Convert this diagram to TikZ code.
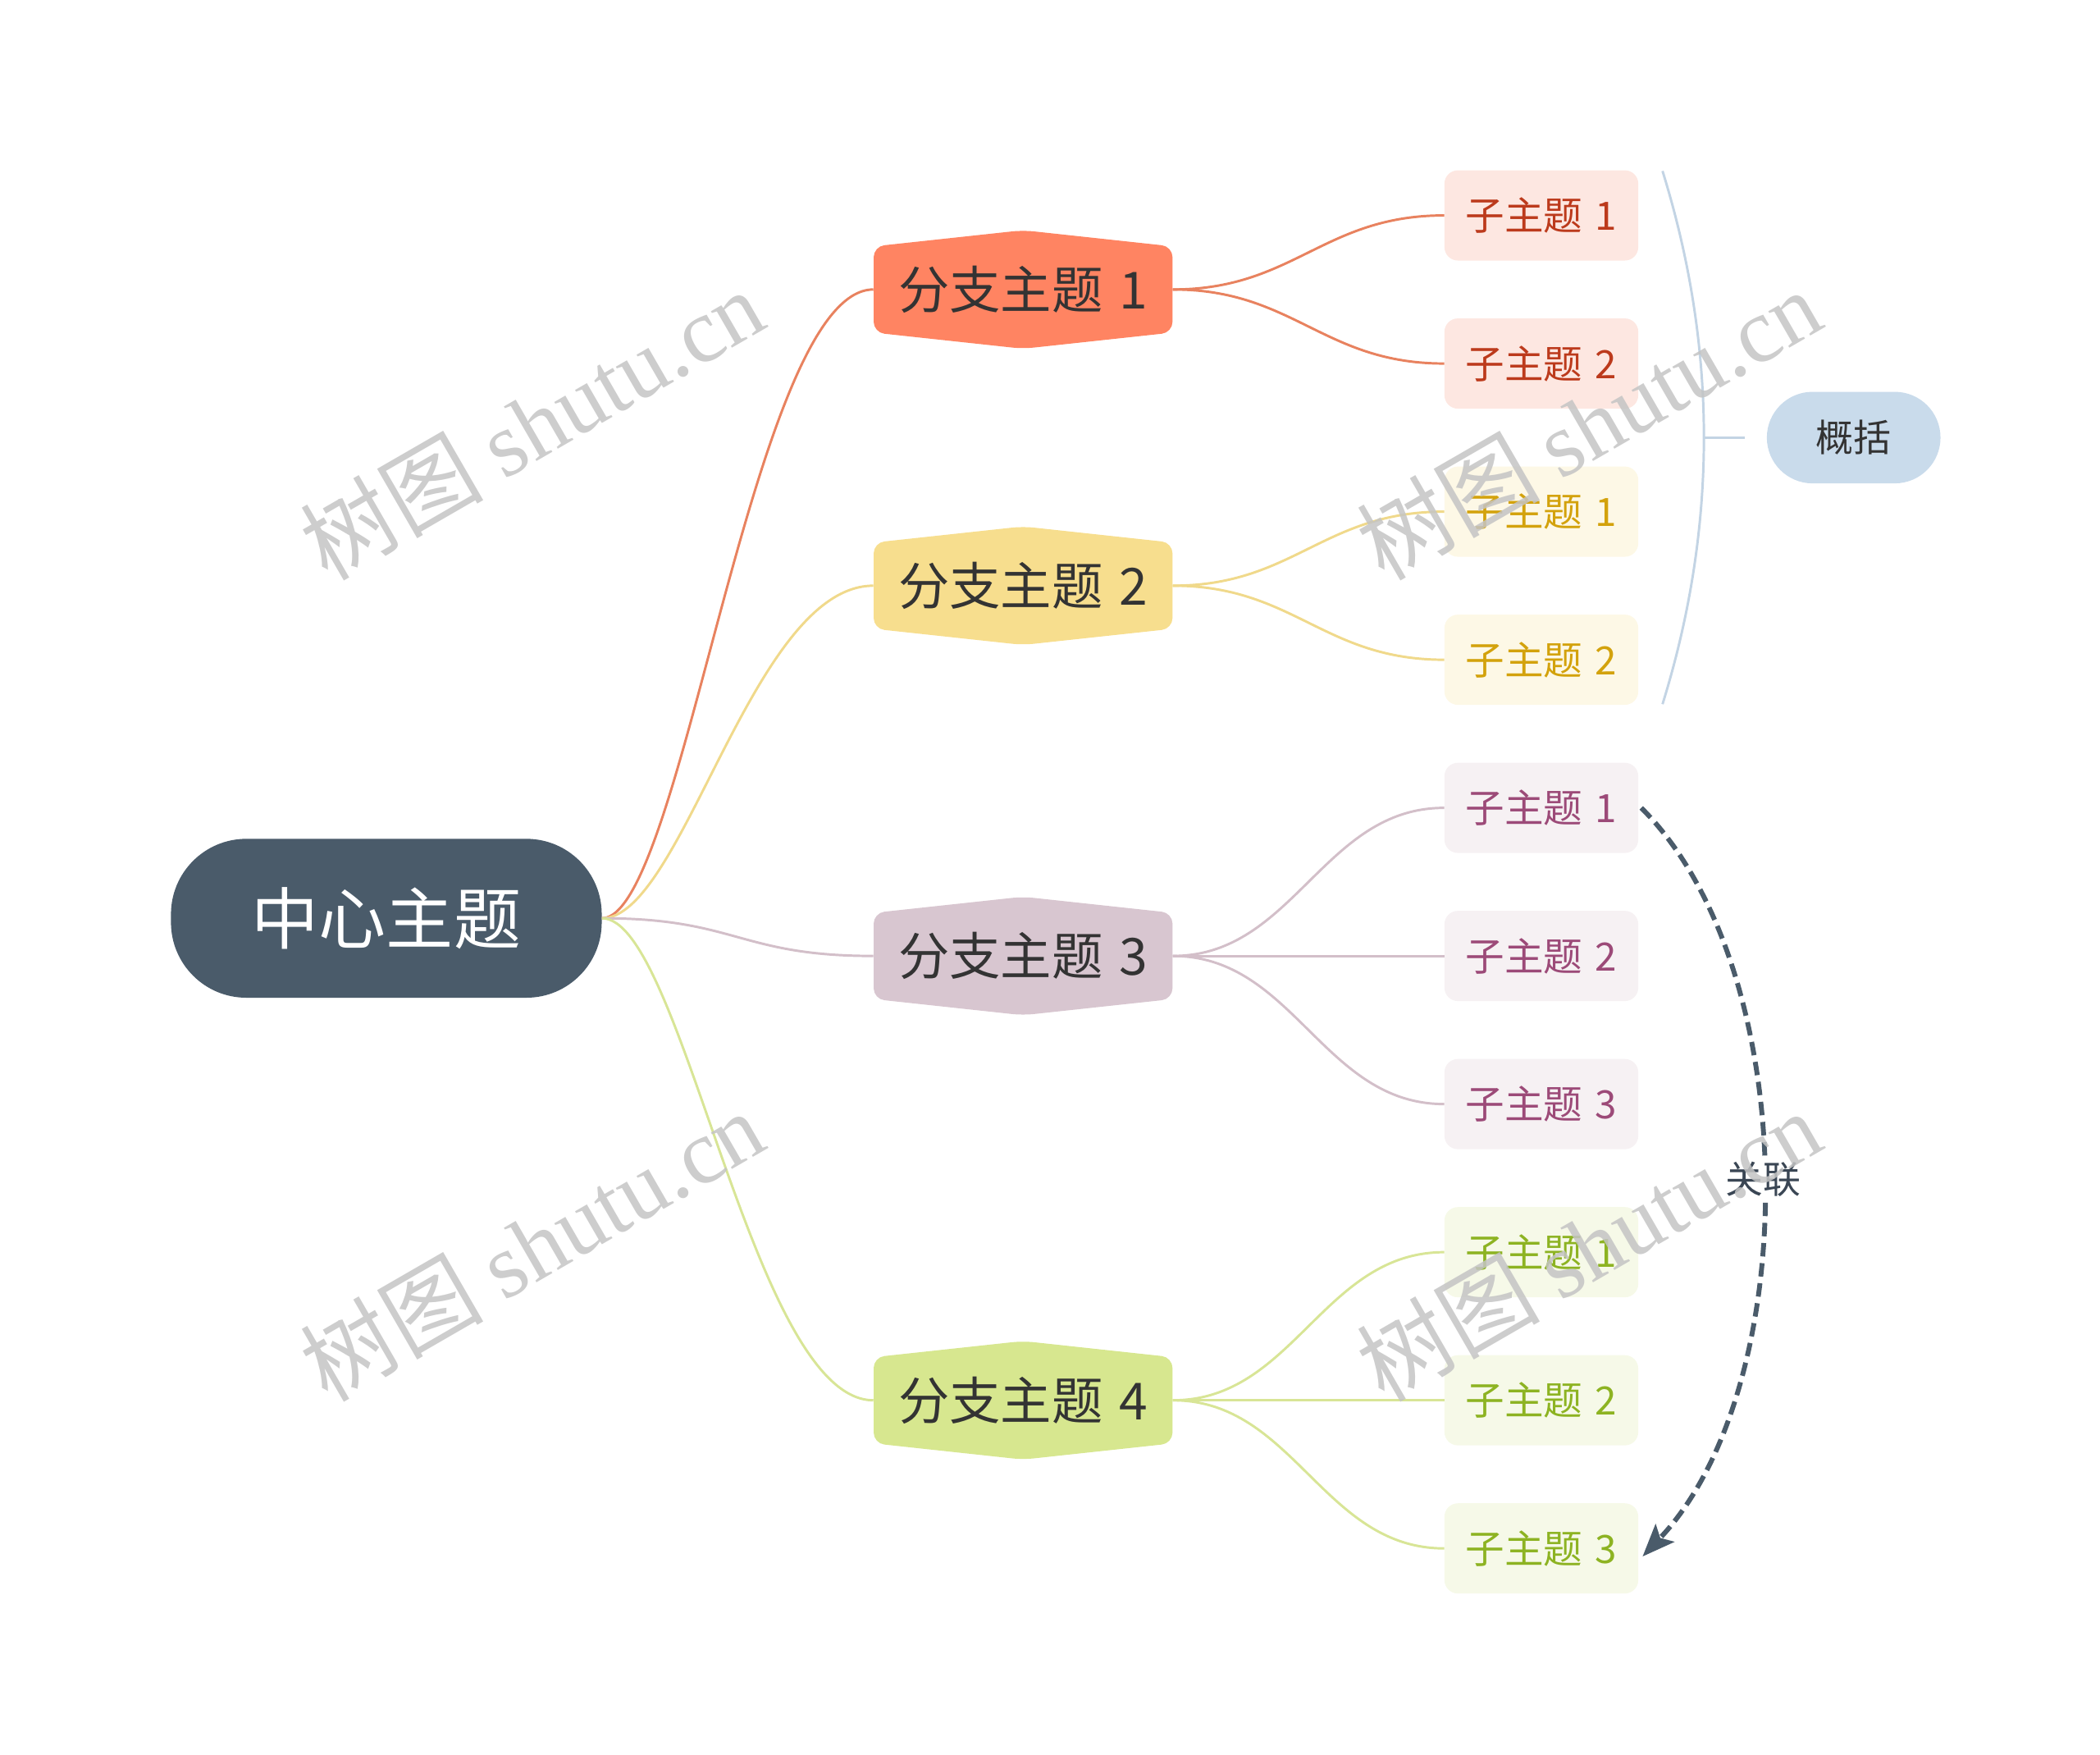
\documentclass[tikz,border=0pt]{standalone}
\usepackage{fontspec}
\setmainfont{Noto Sans CJK SC}
\newfontfamily\wmlatin{Liberation Serif}
\usetikzlibrary{arrows.meta,calc}
\definecolor{central}{HTML}{4A5B6A}
\definecolor{bone}{HTML}{FF8462}
\definecolor{btwo}{HTML}{F7DE8E}
\definecolor{bthree}{HTML}{D8C6D0}
\definecolor{bfour}{HTML}{D7E78F}
\definecolor{lone}{HTML}{E8825F}
\definecolor{ltwo}{HTML}{F0D98B}
\definecolor{lthree}{HTML}{D3BFC9}
\definecolor{lfour}{HTML}{D8E596}
\definecolor{sone}{HTML}{FDE7E1}
\definecolor{stwo}{HTML}{FDF8E6}
\definecolor{sthree}{HTML}{F6F1F3}
\definecolor{sfour}{HTML}{F6F9E8}
\definecolor{tone}{HTML}{BC3A1C}
\definecolor{ttwo}{HTML}{D3A20C}
\definecolor{tthree}{HTML}{9C4A78}
\definecolor{tfour}{HTML}{8DB322}
\definecolor{txt}{HTML}{333333}
\definecolor{reltxt}{HTML}{3A4654}
\definecolor{sumfill}{HTML}{C9DBEB}
\definecolor{sumline}{HTML}{C3D4E4}
\definecolor{wmgray}{HTML}{C4C4C4}
\newcommand\hexshape[3]{% x, y, colour
  \fill[#3, rounded corners=8pt] (#1-111,#2-32) -- (#1,#2-44) -- (#1+111,#2-32)
    -- (#1+111,#2+32) -- (#1,#2+44) -- (#1-111,#2+32) -- cycle;}
\newcommand\numsp{\hspace{0.32em}}
\begin{document}
\begin{tikzpicture}[x=1pt,y=-1pt,
  centralbox/.style={fill=central, text=white, rounded corners=56pt,
    minimum width=320pt, minimum height=118pt, inner sep=0pt, font=\fontsize{50}{56}\selectfont},
  branchbox/.style={text=txt, minimum width=222pt, minimum height=64pt, inner sep=0pt,
    font=\fontsize{38}{44}\selectfont},
  subbox/.style={rounded corners=10pt, minimum width=144pt, minimum height=67pt, inner sep=0pt,
    font=\fontsize{29}{34}\selectfont},
  sumbox/.style={fill=sumfill, text=txt, rounded corners=34pt, minimum width=129pt,
    minimum height=68pt, inner sep=0pt, font=\fontsize{28}{32}\selectfont},
  conn/.style={line width=1.8pt},
  wm/.style={text=wmgray, opacity=0.85, rotate=30, font=\fontsize{68}{78}\selectfont},
]
\useasboundingbox (0,0) rectangle (1560,1303);

% central topic
\node[centralbox] (ctr) at (287,682) {中心主题};

% branches
\hexshape{760}{215}{bone}
\node[branchbox] (b1) at (760,215) {分支主题\numsp 1};
\hexshape{760}{435}{btwo}
\node[branchbox] (b2) at (760,435) {分支主题\numsp 2};
\hexshape{760}{710}{bthree}
\node[branchbox] (b3) at (760,710) {分支主题\numsp 3};
\hexshape{760}{1040}{bfour}
\node[branchbox] (b4) at (760,1040) {分支主题\numsp 4};

% subtopics
\node[subbox, fill=sone, text=tone] (s11) at (1145,160) {子主题\numsp 1};
\node[subbox, fill=sone, text=tone] (s12) at (1145,270) {子主题\numsp 2};
\node[subbox, fill=stwo, text=ttwo] (s21) at (1145,380) {子主题\numsp 1};
\node[subbox, fill=stwo, text=ttwo] (s22) at (1145,490) {子主题\numsp 2};
\node[subbox, fill=sthree, text=tthree] (s31) at (1145,600) {子主题\numsp 1};
\node[subbox, fill=sthree, text=tthree] (s32) at (1145,710) {子主题\numsp 2};
\node[subbox, fill=sthree, text=tthree] (s33) at (1145,820) {子主题\numsp 3};
\node[subbox, fill=sfour, text=tfour] (s41) at (1145,930) {子主题\numsp 1};
\node[subbox, fill=sfour, text=tfour] (s42) at (1145,1040) {子主题\numsp 2};
\node[subbox, fill=sfour, text=tfour] (s43) at (1145,1150) {子主题\numsp 3};

% summary
\node[sumbox] (sum) at (1377,325) {概括};

% central -> branches
\draw[conn, lone] (ctr.east) .. controls +(60,0) and +(-90,0) .. (b1.west);
\draw[conn, ltwo] (ctr.east) .. controls +(60,0) and +(-90,0) .. (b2.west);
\draw[conn, lthree] (ctr.east) .. controls +(100,0) and +(-100,0) .. (b3.west);
\draw[conn, lfour] (ctr.east) .. controls +(60,0) and +(-90,0) .. (b4.west);

% branches -> subtopics
\draw[conn, lone] (b1.east) .. controls +(90,0) and +(-90,0) .. (s11.west);
\draw[conn, lone] (b1.east) .. controls +(90,0) and +(-90,0) .. (s12.west);
\draw[conn, ltwo] (b2.east) .. controls +(90,0) and +(-90,0) .. (s21.west);
\draw[conn, ltwo] (b2.east) .. controls +(90,0) and +(-90,0) .. (s22.west);
\draw[conn, lthree] (b3.east) .. controls +(90,0) and +(-90,0) .. (s31.west);
\draw[conn, lthree] (b3.east) -- (s32.west);
\draw[conn, lthree] (b3.east) .. controls +(90,0) and +(-90,0) .. (s33.west);
\draw[conn, lfour] (b4.east) .. controls +(90,0) and +(-90,0) .. (s41.west);
\draw[conn, lfour] (b4.east) -- (s42.west);
\draw[conn, lfour] (b4.east) .. controls +(90,0) and +(-90,0) .. (s43.west);

% summary bracket
\coordinate (brtop) at (1235,127);
\coordinate (brbot) at (1235,523);
\coordinate (brmid) at (1266,325);
\draw[line width=1.8pt, sumline] (brtop) .. controls (1276,259) and (1276,391) .. (brbot);
\draw[line width=1.8pt, sumline] (brmid) -- ([xshift=-16pt]sum.west);

% relation
\draw[line width=3.6pt, central, dash pattern=on 10pt off 5pt,
      -{Stealth[length=24pt,width=19pt,inset=5pt]}]
  ([xshift=2pt]s31.east) .. controls (1340,720) and (1340,1030) .. ([xshift=3pt,yshift=-6pt]s43.east)
  node[pos=0.5, fill=white, inner sep=4pt, text=reltxt, font=\fontsize{28}{32}\selectfont] (rel) {关联};

% watermarks
\node[wm] (wm1) at (395,315) {树图 {\wmlatin shutu.cn}};
\node[wm] (wm2) at (1180,315) {树图 {\wmlatin shutu.cn}};
\node[wm] (wm3) at (395,925) {树图 {\wmlatin shutu.cn}};
\node[wm] (wm4) at (1180,925) {树图 {\wmlatin shutu.cn}};
\end{tikzpicture}
\end{document}
